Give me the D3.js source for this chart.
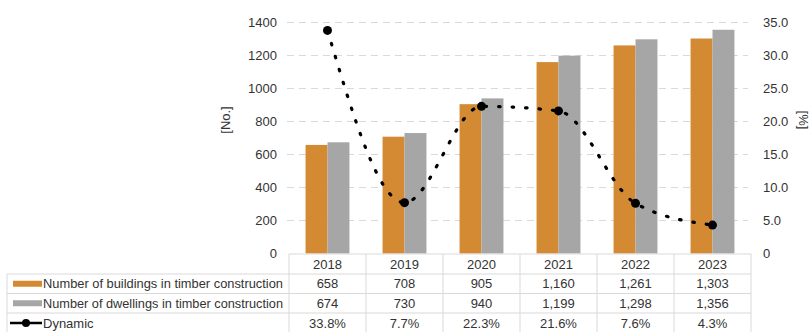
<!DOCTYPE html>
<html lang="en">
<head>
<meta charset="UTF-8">
<title>Timber construction</title>
<script src="https://cdn.jsdelivr.net/npm/d3@7"></script>
<style>
  body { margin: 0; background: #fff; }
  svg text { font-family: "Liberation Sans", Arial, sans-serif; fill: #333; }
</style>
</head>
<body>
<script>
const years = ["2018", "2019", "2020", "2021", "2022", "2023"];
const buildings = [658, 708, 905, 1160, 1261, 1303];
const dwellings = [674, 730, 940, 1199, 1298, 1356];
const dynamic = [33.8, 7.7, 22.3, 21.6, 7.6, 4.3];
const leftTicks = [0, 200, 400, 600, 800, 1000, 1200, 1400];
const rightTicks = [0, 5, 10, 15, 20, 25, 30, 35];
const seriesNames = [
  "Number of buildings in timber construction",
  "Number of dwellings in timber construction",
  "Dynamic"
];

const w = 810, h = 332;
const plotL = 289, plotR = 751, plotT = 22.5, plotB = 253.5;
const orange = "#D48A33", gray = "#A6A6A6", grid = "#d9d9d9";

const svg = d3.select("body").append("svg").attr("width", w).attr("height", h);

const x = d3.scaleBand().domain(years).range([plotL, plotR])
  .paddingInner(0.43).paddingOuter(0.215);
const xCol = d3.scaleBand().domain(years).range([plotL, plotR]);
const sub = d3.scaleBand().domain(["b", "d"]).range([0, x.bandwidth()]);
const y = d3.scaleLinear().domain([0, 1400]).range([plotB, plotT]);
const y2 = d3.scaleLinear().domain([0, 35]).range([plotB, plotT]);

// gridlines
svg.append("g").selectAll("line")
  .data(leftTicks.filter(d => d > 0))
  .join("line")
  .attr("x1", plotL - 2).attr("x2", plotR - 3)
  .attr("y1", d => y(d)).attr("y2", d => y(d))
  .attr("stroke", grid).attr("stroke-dasharray", "7,5");

// left axis
const yAxis = d3.axisLeft(y).tickValues(leftTicks).tickSize(0).tickPadding(0).tickFormat(d3.format("d"));
const gl = svg.append("g").attr("transform", "translate(277,0)").call(yAxis);
gl.select(".domain").remove();
gl.selectAll("text").style("font-size", "13px").attr("fill", "#333");

// right axis
const yAxis2 = d3.axisRight(y2).tickValues(rightTicks).tickSize(0).tickPadding(0)
  .tickFormat(d => d === 0 ? "0" : d.toFixed(1));
const gr = svg.append("g").attr("transform", "translate(763,0)").call(yAxis2);
gr.select(".domain").remove();
gr.selectAll("text").style("font-size", "13px").attr("fill", "#333");

svg.append("text").attr("transform", "translate(230,120) rotate(-90)")
  .attr("text-anchor", "middle").style("font-size", "13px").text("[No.]");
svg.append("text").attr("transform", "translate(799,120) rotate(90)")
  .attr("text-anchor", "middle").style("font-size", "13px").text("[%]");

// bars
const rows = years.map((yr, i) => ({ year: yr, b: buildings[i], d: dwellings[i] }));
const groups = svg.append("g").selectAll("g").data(rows).join("g")
  .attr("transform", d => `translate(${x(d.year)},0)`);
groups.append("rect")
  .attr("x", sub("b")).attr("width", sub.bandwidth())
  .attr("y", d => y(d.b)).attr("height", d => y(0) - y(d.b)).attr("fill", orange);
groups.append("rect")
  .attr("x", sub("d")).attr("width", sub.bandwidth())
  .attr("y", d => y(d.d)).attr("height", d => y(0) - y(d.d)).attr("fill", gray);

// dynamic line
const pts = years.map((yr, i) => [xCol(yr) + xCol.bandwidth() / 2, y2(dynamic[i])]);
svg.append("path")
  .attr("d", d3.line().curve(d3.curveMonotoneX)(pts))
  .attr("fill", "none").attr("stroke", "#000").attr("stroke-width", 3.2)
  .attr("stroke-linecap", "round").attr("stroke-dasharray", "1.5,12");
svg.append("g").selectAll("circle").data(pts).join("circle")
  .attr("cx", d => d[0]).attr("cy", d => d[1]).attr("r", 4.5).attr("fill", "#000");

// data table
const rowTop = [254, 274, 293.5, 313, 333];
const tbl = svg.append("g");
tbl.append("line").attr("x1", plotL).attr("x2", plotR).attr("y1", 254).attr("y2", 254).attr("stroke", grid);
[274, 293.5, 313].forEach(yy => {
  tbl.append("line").attr("x1", 7).attr("x2", plotR).attr("y1", yy).attr("y2", yy).attr("stroke", grid);
});
const colEdges = years.map(yr => xCol(yr)).concat([plotR]);
tbl.selectAll("line.v").data(colEdges).join("line").attr("class", "v")
  .attr("x1", d => d).attr("x2", d => d).attr("y1", 254).attr("y2", h)
  .attr("stroke", grid);
tbl.append("line").attr("x1", 7).attr("x2", 7).attr("y1", 274).attr("y2", h).attr("stroke", grid);

const cellFmt = d3.format(",");
const rowMid = i => (rowTop[i] + rowTop[i + 1]) / 2 + 4.5;
const tableRows = [
  years,
  buildings.map(cellFmt),
  dwellings.map(cellFmt),
  dynamic.map(d => d.toFixed(1) + "%")
];
tableRows.forEach((vals, r) => {
  tbl.append("g").selectAll("text").data(vals).join("text")
    .attr("x", (d, i) => xCol(years[i]) + xCol.bandwidth() / 2)
    .attr("y", rowMid(r))
    .attr("text-anchor", "middle").style("font-size", "13px").text(d => d);
});

// legend cells
seriesNames.forEach((name, i) => {
  const cy = rowMid(i + 1) - 4.5;
  if (i < 2) {
    tbl.append("rect").attr("x", 13).attr("y", cy - 3).attr("width", 29).attr("height", 6)
      .attr("fill", i === 0 ? orange : gray);
  } else {
    tbl.append("line").attr("x1", 10).attr("x2", 42).attr("y1", cy).attr("y2", cy)
      .attr("stroke", "#000").attr("stroke-width", 2.5);
    tbl.append("circle").attr("cx", 26).attr("cy", cy).attr("r", 4).attr("fill", "#000");
  }
  const t = tbl.append("text").attr("x", 43).attr("y", cy + 4.5)
    .style("font-size", "13px").text(name);
  if (i < 2) t.attr("textLength", 240).attr("lengthAdjust", "spacingAndGlyphs");
});
</script>
</body>
</html>
